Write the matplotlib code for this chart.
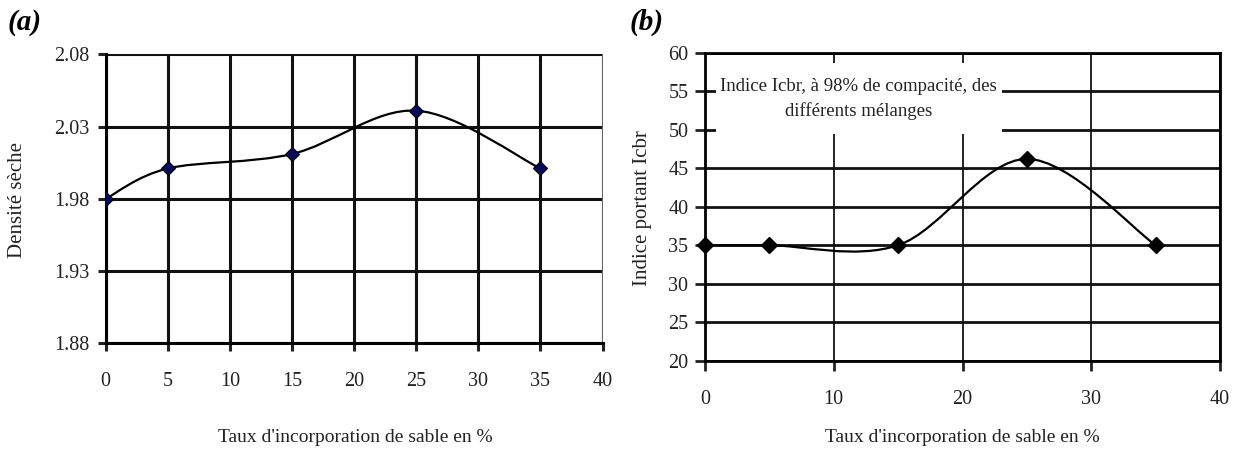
import numpy as np
import matplotlib.pyplot as plt
from matplotlib.path import Path
from matplotlib.patches import PathPatch, Rectangle
from matplotlib.ticker import MultipleLocator

plt.rcParams['font.family'] = ['Liberation Serif', 'DejaVu Serif']

# data
taux = [0, 5, 15, 25, 35]
densite = [1.98, 2.001, 2.011, 2.041, 2.001]
icbr = [35, 35, 35, 46.2, 35]

xlabel = "Taux d'incorporation de sable en %"
ylabel_a = "Densité sèche"
ylabel_b = "Indice portant Icbr"
note_b = "Indice Icbr, à 98% de compacité, des\ndifférents mélanges"


# smooth curve through the points (Catmull-Rom as cubic bezier, like excel)
def smooth_path(xs, ys):
    p = np.column_stack([xs, ys]).astype(float)
    verts = [p[0]]
    codes = [Path.MOVETO]
    n = len(p)
    for i in range(n - 1):
        p0 = p[i - 1] if i > 0 else p[i]
        p1 = p[i]
        p2 = p[i + 1]
        p3 = p[i + 2] if i + 2 < n else p[i + 1]
        verts += [p1 + (p2 - p0) / 6, p2 - (p3 - p1) / 6, p2]
        codes += [Path.CURVE4] * 3
    return Path(verts, codes)


fig = plt.figure(figsize=(12.38, 4.5), dpi=100)

# ---- (a)
ax1 = fig.add_axes([105.7 / 1238, 1 - 343.3 / 450, (602.5 - 105.7) / 1238, (343.3 - 54.3) / 450])
ax1.set_xlim(0, 40)
ax1.set_ylim(1.88, 2.08)
ax1.xaxis.set_major_locator(MultipleLocator(5))
ax1.set_yticks([1.88, 1.93, 1.98, 2.03, 2.08])
ax1.set_yticklabels(['1.88', '1.93', '1.98', '2.03', '2.08'])
ax1.grid(True, color='#111111', lw=2.2)
ax1.set_axisbelow(True)
for s in ['top', 'right']:
    ax1.spines[s].set_visible(False)
ax1.axvline(40, color='#666666', lw=2.2, zorder=0.6)
for s in ['left', 'bottom']:
    ax1.spines[s].set_linewidth(2.2)
ax1.tick_params(direction='out', length=6, width=2.2, labelsize=14.5, colors='#222222')
ax1.tick_params(axis='x', pad=15)
ax1.tick_params(axis='y', pad=6)
ax1.add_patch(PathPatch(smooth_path(taux, densite), fill=False, lw=1.6, color='black', zorder=3))
ax1.plot(taux, densite, ls='none', marker='D', ms=7, mfc='#0a0a5a', mec='black', mew=0.8, zorder=4)

fig.text(355 / 1238, 1 - 438 / 450, xlabel, ha='center', va='center', fontsize=14, color='#222222')
fig.text(18 / 1238, 1 - 200 / 450, ylabel_a, ha='center', va='center', rotation=90, fontsize=15, color='#222222')
fig.text(8 / 1238, 1 - 22 / 450, '(a)', ha='left', va='center', fontsize=21, fontweight='bold', fontstyle='italic')

# ---- (b)
ax2 = fig.add_axes([705 / 1238, 1 - 360.7 / 450, (1220 - 705) / 1238, (360.7 - 52.7) / 450])
ax2.set_xlim(0, 40)
ax2.set_ylim(20, 60)
ax2.xaxis.set_major_locator(MultipleLocator(10))
ax2.yaxis.set_major_locator(MultipleLocator(5))
ax2.grid(True, axis='y', color='#111111', lw=2.0)
ax2.grid(True, axis='x', color='#222222', lw=1.4)
ax2.set_axisbelow(True)
for s in ['left', 'bottom', 'right', 'top']:
    ax2.spines[s].set_linewidth(2.0)
ax2.tick_params(direction='out', length=7, width=2.0, labelsize=14.5, colors='#222222')
ax2.tick_params(axis='x', pad=14)
ax2.tick_params(axis='y', pad=5)
# white box behind the note
ax2.add_patch(Rectangle((0.85, 49.4), 22.2, 9.2, facecolor='white', edgecolor='none', zorder=1))
ax2.text(11.9, 54.0, note_b, ha='center', va='center', fontsize=13.5, color='#222222',
         linespacing=1.5, zorder=2)
ax2.add_patch(PathPatch(smooth_path(taux, icbr), fill=False, lw=1.6, color='black', zorder=3))
ax2.plot(taux, icbr, ls='none', marker='D', ms=8, mfc='black', mec='black', zorder=4, clip_on=False)

fig.text(962 / 1238, 1 - 437 / 450, xlabel, ha='center', va='center', fontsize=14, color='#222222')
fig.text(642 / 1238, 1 - 208 / 450, ylabel_b, ha='center', va='center', rotation=90, fontsize=15, color='#222222')
fig.text(630 / 1238, 1 - 22 / 450, '(b)', ha='left', va='center', fontsize=21, fontweight='bold', fontstyle='italic')

fig.savefig('out.png', dpi=100)
